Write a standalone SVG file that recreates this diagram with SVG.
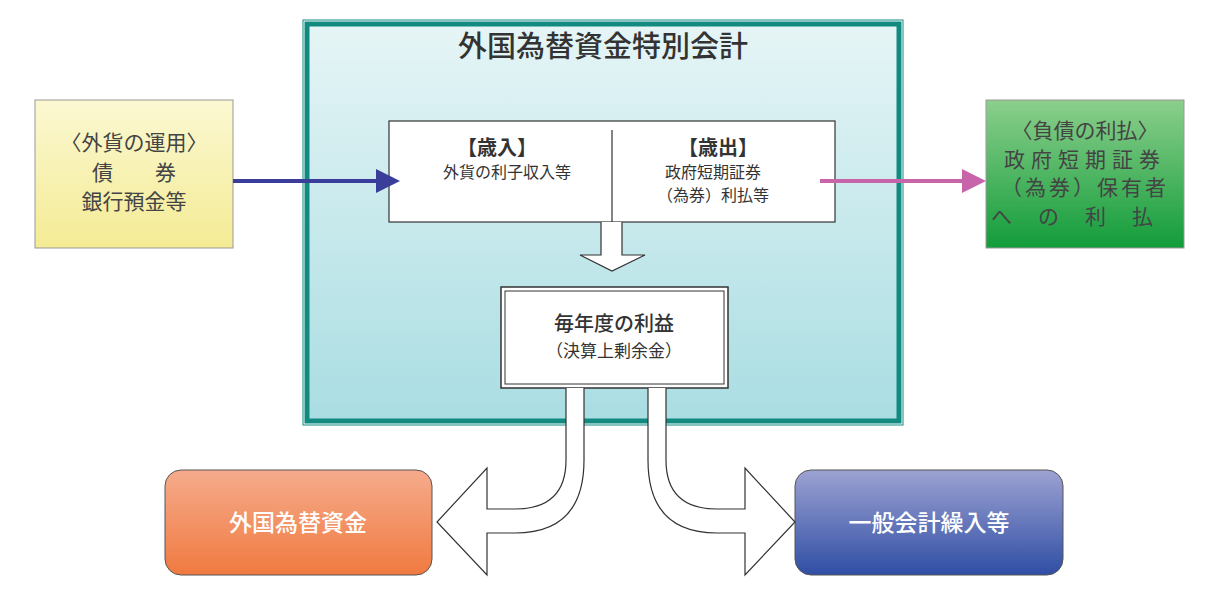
<svg xmlns="http://www.w3.org/2000/svg" width="1221" height="590" viewBox="0 0 1221 590">
<defs>
<linearGradient id="gMain" x1="0" y1="0" x2="0" y2="1"><stop offset="0" stop-color="#e6f5f6"/><stop offset="1" stop-color="#a9dde2"/></linearGradient>
<linearGradient id="gY" x1="0" y1="0" x2="0" y2="1"><stop offset="0" stop-color="#fbf8d2"/><stop offset="1" stop-color="#f4eb94"/></linearGradient>
<linearGradient id="gG" x1="0" y1="0" x2="0" y2="1"><stop offset="0" stop-color="#8ccf8c"/><stop offset="1" stop-color="#129c3a"/></linearGradient>
<linearGradient id="gO" x1="0" y1="0" x2="0" y2="1"><stop offset="0" stop-color="#f6ab8c"/><stop offset="1" stop-color="#f07a40"/></linearGradient>
<linearGradient id="gB" x1="0" y1="0" x2="0" y2="1"><stop offset="0" stop-color="#9da2d2"/><stop offset="1" stop-color="#2f4ea4"/></linearGradient>
<marker id="mB" markerWidth="6" markerHeight="6" refX="5" refY="3" orient="auto" markerUnits="strokeWidth"><path d="M0,0L6,3L0,6z" fill="#3b3d9a"/></marker>
<marker id="mP" markerWidth="6" markerHeight="6" refX="5" refY="3" orient="auto" markerUnits="strokeWidth"><path d="M0,0L6,3L0,6z" fill="#c764aa"/></marker>
</defs>
<style>
text{font-family:"Noto Sans CJK JP","Noto Sans",sans-serif;text-anchor:middle;fill:#333}
.w{fill:#fff;stroke:#333;stroke-width:1.2}
.big{font-size:29px;font-weight:500}
.m{font-size:16px}
.h{font-size:20px;font-weight:bold}
.s{font-size:20px;font-weight:500}
.side{font-size:21px;fill:#444}
.wt{fill:#fff;font-size:23px;font-weight:500}
</style>
<g id="main">
<rect x="303" y="20" width="600" height="405" fill="none" stroke="#138a80" stroke-width="1"/>
<rect x="307" y="24" width="592" height="397" fill="url(#gMain)" stroke="#138a80" stroke-width="5"/>
<text x="603" y="57" class="big">外国為替資金特別会計</text>
</g>
<g id="budget">
<rect x="389" y="121" width="446" height="101" class="w"/>
<line x1="612" y1="130" x2="612" y2="230" stroke="#333" stroke-width="1.2"/>
<text x="497" y="155" class="h">【歳入】</text>
<text x="507" y="178" class="m">外貨の利子収入等</text>
<text x="718" y="155" class="h">【歳出】</text>
<text x="713" y="178" class="m">政府短期証券</text>
<text x="713" y="201" class="m">（為券）利払等</text>
</g>
<g id="profit">
<rect x="501" y="287" width="227" height="101" fill="#fff" stroke="#333" stroke-width="1.5"/>
<rect x="505" y="291" width="219" height="93" fill="#fff" stroke="#333" stroke-width="1"/>
<text x="614" y="331" class="s">毎年度の利益</text>
<text x="614" y="357" class="m" style="font-size:17px">（決算上剰余金）</text>
</g>
<g id="left">
<rect x="35" y="100" width="198" height="148" fill="url(#gY)" stroke="#999"/>
<text x="134" y="150" class="side">〈外貨の運用〉</text>
<text x="134" y="180" class="side">債　　券</text>
<text x="134" y="209" class="side">銀行預金等</text>
</g>
<g id="right">
<rect x="986" y="100" width="198" height="148" fill="url(#gG)" stroke="#999"/>
<text x="1085" y="138" class="side">〈負債の利払〉</text>
<text x="1085" y="167" class="side" style="letter-spacing:6px">政府短期証券</text>
<text x="1085" y="195" class="side" style="letter-spacing:3px">（為券）保有者</text>
<text x="1085" y="224" class="side" style="letter-spacing:26px">への利払</text>
</g>
<g id="fund">
<rect x="165" y="470" width="267" height="105" rx="16" fill="url(#gO)" stroke="#555"/>
<text x="298" y="531" class="wt">外国為替資金</text>
</g>
<g id="general">
<rect x="795" y="470" width="268" height="105" rx="16" fill="url(#gB)" stroke="#555"/>
<text x="929" y="531" class="wt">一般会計繰入等</text>
</g>
<g id="connectors">
<line x1="233" y1="181" x2="396" y2="181" stroke="#3b3d9a" stroke-width="4" marker-end="url(#mB)"/>
<line x1="820" y1="181" x2="982" y2="181" stroke="#c764aa" stroke-width="4" marker-end="url(#mP)"/>
<path d="M601,222V255H580L612,271L645,255H622V222" class="w"/>
<path d="M566,388V460Q566,509 515,509H487V468L437,522L487,575V533H515Q584,533 584,460V388" class="w"/>
<path d="M666,388V460Q666,509 717,509H745V468L795,522L745,575V533H717Q648,533 648,460V388" class="w"/>
</g>
</svg>
